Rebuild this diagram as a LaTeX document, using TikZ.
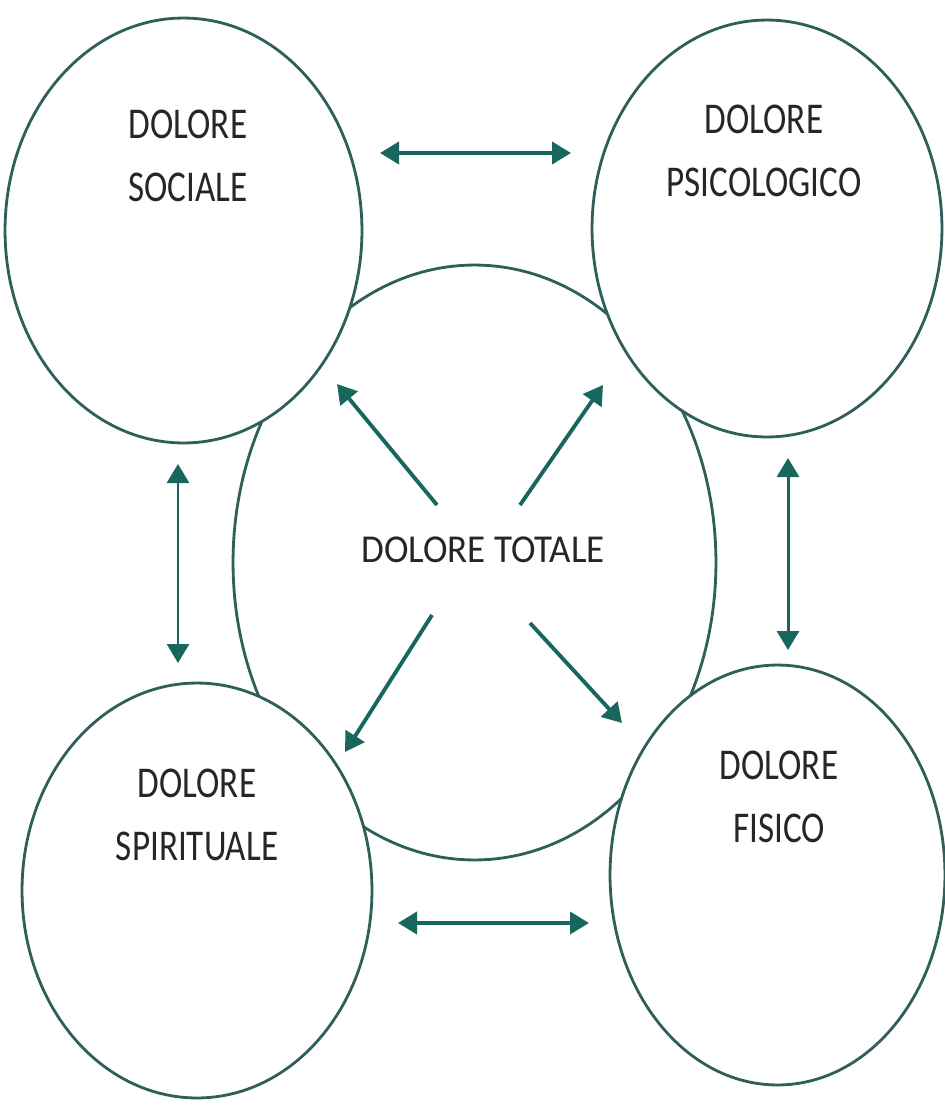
\documentclass[tikz,border=0pt]{standalone}
\usepackage{fontspec}
\setmainfont{Carlito}
\usetikzlibrary{shapes.geometric,arrows.meta}
\definecolor{rim}{HTML}{2F5E5B}
\definecolor{arrowteal}{HTML}{17675F}
\tikzset{
  bubble/.style={ellipse, draw=rim, line width=1.6pt, fill=white, inner sep=0pt},
  bubbletext/.style={align=center, text=black!85, font=\fontsize{25}{36}\selectfont, xscale=0.8},
  centretext/.style={text=black!85, font=\fontsize{22.5}{27}\selectfont, xscale=0.935},
  link/.style={draw=arrowteal, line width=2.2pt, {Triangle[width=0.44cm,length=0.38cm]}-{Triangle[width=0.44cm,length=0.38cm]}},
  spoke/.style={draw=arrowteal, line width=2.2pt, -{Triangle[width=0.44cm,length=0.38cm]}}
}
\begin{document}
\begin{tikzpicture}[x=0.02cm,y=-0.02cm]
      \useasboundingbox[fill=white] (0,0) rectangle (945,1106);
      % central ellipse first, the four others cover it
      \node[bubble, minimum width=9.66cm, minimum height=11.9cm] (totale) at (474.5,562.5) {};
      \node[bubble, minimum width=7.14cm, minimum height=8.5cm] (sociale) at (183.5,230.5) {};
      \node[bubble, minimum width=7.0cm, minimum height=8.34cm] (psico) at (767,228.5) {};
      \node[bubble, minimum width=7.0cm, minimum height=8.3cm] (spirito) at (197,890.5) {};
      \node[bubble, minimum width=6.7cm, minimum height=8.4cm] (fisico) at (777.5,875) {};
      % texts
      \node[bubbletext] (tsociale) at (188,156) {DOLORE\\SOCIALE};
      \node[bubbletext] (tpsico) at (764,151) {DOLORE\\PSICOLOGICO};
      \node[bubbletext] (tspirito) at (197,815) {DOLORE\\SPIRITUALE};
      \node[bubbletext] (tfisico) at (779,797) {DOLORE\\FISICO};
      \node[centretext] (ttotale) at (483,550) {DOLORE TOTALE};
      % arrow ends
      \coordinate (a1) at (380,153); \coordinate (a2) at (571,153);
      \coordinate (b1) at (398,923); \coordinate (b2) at (589,923);
      \coordinate (c1) at (178,464); \coordinate (c2) at (178,663);
      \coordinate (d1) at (788,458); \coordinate (d2) at (788,650);
      \coordinate (s0) at (437,505); \coordinate (s1) at (337,384);
      \coordinate (u0) at (520,505); \coordinate (u1) at (603,385);
      \coordinate (l0) at (432,615); \coordinate (l1) at (345,752);
      \coordinate (r0) at (530,623); \coordinate (r1) at (622,723);
      \draw[link] (a1) -- (a2);
      \draw[link] (b1) -- (b2);
      \draw[link, line width=1.7pt] (c1) -- (c2);
      \draw[link, line width=1.7pt] (d1) -- (d2);
      \draw[spoke] (s0) -- (s1);
      \draw[spoke] (u0) -- (u1);
      \draw[spoke] (l0) -- (l1);
      \draw[spoke] (r0) -- (r1);
\end{tikzpicture}
\end{document}
